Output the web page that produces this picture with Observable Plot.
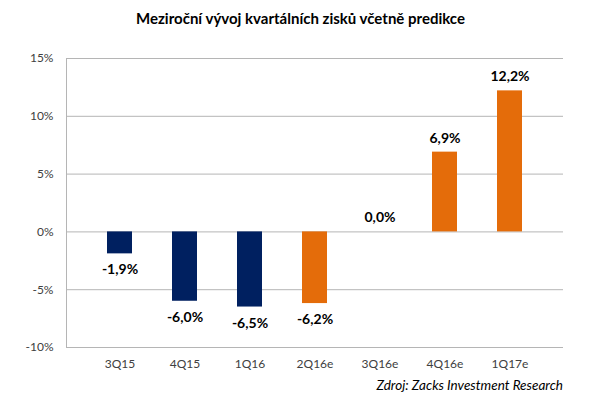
<!DOCTYPE html>
<html><head><meta charset="utf-8">
<script src="https://cdn.jsdelivr.net/npm/d3@7"></script>
<script src="https://cdn.jsdelivr.net/npm/@observablehq/plot@0.6"></script>
<style>
body{margin:0;background:#fff;font-family:Lato, "Open Sans", sans-serif;}
#wrap{position:relative;width:601px;height:418px;background:#fff;}
#title{position:absolute;top:0;left:0;width:601px;height:36px;line-height:36px;text-align:center;font-weight:700;font-size:15px;color:#000;}
#chart{position:absolute;top:36px;left:0;}
#caption{position:absolute;top:377px;right:38px;font-style:italic;font-size:13.5px;color:#000;}
</style></head><body>
<div id="wrap"><div id="title">Meziroční vývoj kvartálních zisků včetně predikce</div><div id="chart"></div><div id="caption">Zdroj: Zacks Investment Research</div></div>
<script>
const quarters = ["3Q15","4Q15","1Q16","2Q16e","3Q16e","4Q16e","1Q17e"];
const growth = [-1.9,-6.0,-6.5,-6.2,0.0,6.9,12.2];
const kind = ["actual","actual","actual","forecast","forecast","forecast","forecast"];
const yTicks = [-10,-5,0,5,10,15];
const data = quarters.map((q,i)=>({q, v:growth[i], k:kind[i]}));
const fmt = v => v.toFixed(1).replace(".", ",") + "%";
const chart = Plot.plot({
  width:601, height:345, marginTop:22, marginBottom:34, marginLeft:66, marginRight:38,
  style:{fontFamily:"Lato, sans-serif", fontSize:"12px", color:"#404040", background:"white"},
  x:{domain:quarters, padding:0.61, label:null, tickSize:0, tickPadding:12},
  y:{domain:[-10,15], ticks:yTicks, tickFormat:d=>d+"%", label:null, tickSize:0, tickPadding:13},
  color:{domain:["actual","forecast"], range:["#002060","#E46C0A"]},
  marks:[
    Plot.ruleY(yTicks,{stroke:"#b5b5b5", strokeWidth:1}),
    Plot.frame({anchor:"left", stroke:"#b5b5b5"}),
    Plot.barY(data,{x:"q", y:"v", fill:"k"}),
    Plot.text(data,{filter:d=>d.v<0, x:"q", y:"v", text:d=>fmt(d.v), dy:16, fill:"#000", fontWeight:"bold", fontSize:14}),
    Plot.text(data,{filter:d=>d.v>=0, x:"q", y:"v", text:d=>fmt(d.v), dy:-14, fill:"#000", fontWeight:"bold", fontSize:14})
  ]
});
document.getElementById("chart").appendChild(chart);
</script>
</body></html>
